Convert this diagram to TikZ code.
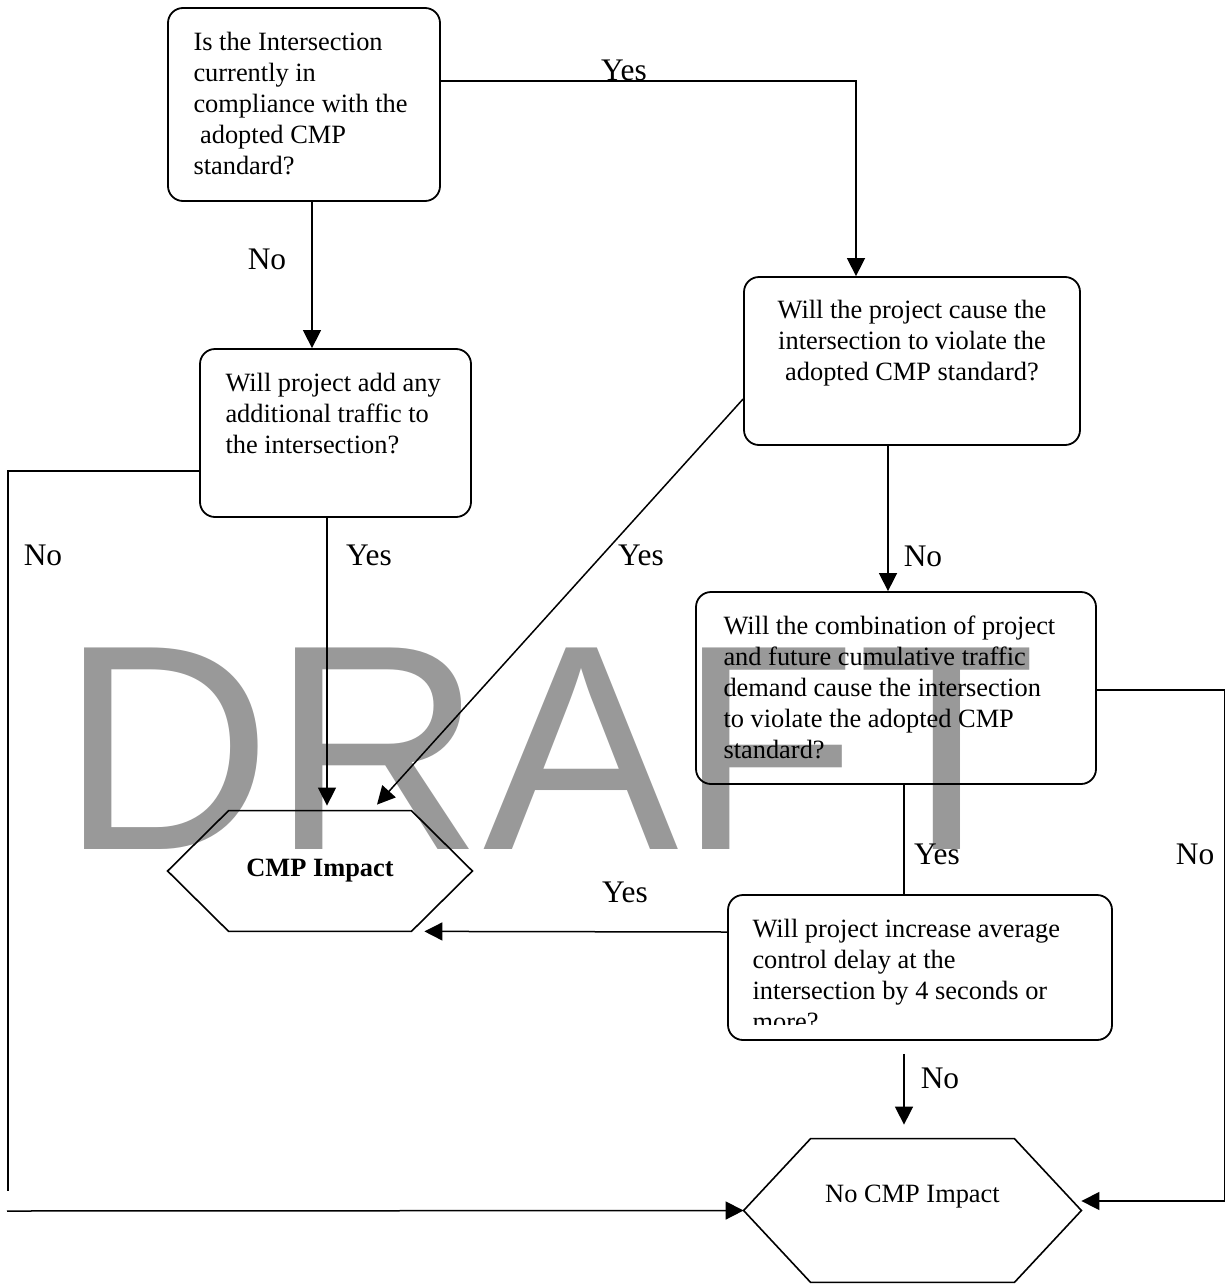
\documentclass[tikz,border=0pt]{standalone}
\usepackage{fontspec}
\setmainfont{Liberation Serif}
\newfontfamily\wmfont{Liberation Sans}
\usetikzlibrary{arrows.meta}
\definecolor{wmgray}{RGB}{153,153,153}
\tikzstyle{qbox}=[draw,line width=0.9pt,rounded corners=7.5pt,inner sep=0pt]
\tikzstyle{qtxt}=[inner sep=0pt,align=left,font=\fontsize{13.2pt}{15.5pt}\selectfont]
\tikzstyle{hexa}=[inner sep=0pt,font=\fontsize{13.2pt}{15.5pt}\selectfont]
\tikzstyle{lbl}=[inner sep=0pt,anchor=base,font=\fontsize{15.7pt}{18pt}\selectfont]
\tikzstyle{con}=[line width=0.75pt]
\tikzstyle{arr}=[line width=0.75pt,-{Triangle[length=9pt,width=9pt]}]

\begin{document}
\begin{tikzpicture}[x=0.5pt,y=-0.5pt]
                    \useasboundingbox (0,0) rectangle (1229,1284);
                    \node[anchor=base west,inner sep=0pt,text=wmgray,font=\wmfont\fontsize{146.5pt}{150pt}\selectfont] (wm) at (60,849) {DRAFT};
                    \node[qbox,minimum width=136pt,minimum height=96.5pt] (q1) at (304,104.5) {};
                    \node[qbox,minimum width=135.5pt,minimum height=84pt] (q2) at (335.5,433) {};
                    \node[qbox,minimum width=168pt,minimum height=84pt] (q3) at (912,361) {};
                    \node[qbox,minimum width=200pt,minimum height=96pt] (q4) at (896,688) {};
                    \node[qbox,minimum width=192pt,minimum height=72.5pt] (q5) at (920,967.5) {};
                    \node[qtxt,anchor=north west] (q1t) at ([xshift=13pt,yshift=-10.5pt]q1.north west)
                        {\strut Is the Intersection\\currently in\\compliance with the\\\hspace*{3.3pt}adopted CMP\\standard?};
                    \node[qtxt,anchor=north west] (q2t) at ([xshift=13pt,yshift=-10.5pt]q2.north west)
                        {\strut Will project add any\\additional traffic to\\the intersection?};
                    \node[qtxt,align=center,anchor=north] (q3t) at ([yshift=-10pt]q3.north)
                        {\strut Will the project cause the\\intersection to violate the\\adopted CMP standard?};
                    \node[qtxt,anchor=north west] (q4t) at ([xshift=14pt,yshift=-10.5pt]q4.north west)
                        {\strut Will the combination of project\\and future cumulative traffic\\demand cause the intersection\\to violate the adopted CMP\\standard?};
                    \begin{scope}
                        \clip ([yshift=8pt]q5.south west) rectangle (q5.north east);
                        \node[qtxt,anchor=north west] (q5t) at ([xshift=12.5pt,yshift=-10.5pt]q5.north west)
                            {\strut Will project increase average\\control delay at the\\intersection by 4 seconds or\\more?};
                    \end{scope}
                    \node[hexa,minimum width=152pt,minimum height=60pt,font=\fontsize{13.2pt}{15.5pt}\selectfont\bfseries] (imp) at (320,871) {CMP Impact};
                    \node[hexa,minimum width=168.5pt,minimum height=71.5pt] (noimp) at (912.5,1210.5) {};
                    \node[hexa] (noimpt) at ([yshift=6.75pt]noimp.center) {No CMP Impact};
                    \foreach \h/\c in {imp/30.5pt, noimp/33.5pt}
                        \draw[line width=0.8pt] (\h.west) -- ([xshift=\c]\h.north west) -- ([xshift=-\c]\h.north east)
                            -- (\h.east) -- ([xshift=-\c]\h.south east) -- ([xshift=\c]\h.south west) -- cycle;
                    \coordinate (lfoot) at (8,1191);
                    \coordinate (lstart) at (7,1211);
                    \draw[arr] ([xshift=4pt]q1.south) -- ([xshift=4pt]q1.south |- q2.north);
                    \draw[arr] ([yshift=11.75pt]q1.east) -| ([xshift=-28pt]q3.north);
                    \draw[arr] ([xshift=-4.25pt]q2.south) -- ([xshift=-4.25pt,yshift=2.5pt]q2.south |- imp.north);
                    \draw[con] ([yshift=-19pt]q2.west) -| (lfoot);
                    \draw[arr] (lstart) -- (noimp.west);
                    \draw[arr] ([yshift=-19pt]q3.west) -- ([xshift=28.5pt,yshift=3pt]imp.north);
                    \draw[arr] ([xshift=-12pt]q3.south) -- ([xshift=-12pt]q3.south |- q4.north);
                    \draw[con] ([xshift=4pt]q4.south) -- ([xshift=4pt]q4.south |- q5.north);
                    \draw[arr] ([yshift=-1pt]q4.east) -| ([xshift=71.5pt,yshift=4.75pt]noimp.east) -- ([yshift=4.75pt]noimp.east);
                    \draw[arr] ([yshift=17.75pt]q5.west) -- ([xshift=-24pt]imp.south east);
                    \draw[arr,shorten <=6.5pt,shorten >=7pt] ([xshift=-8pt]q5.south) -- ([xshift=-8pt]q5.south |- noimp.north);
                    \node[lbl] (n1) at (267,269) {No};
                    \node[lbl] (y1) at (624,81) {Yes};
                    \node[lbl] (n2) at (43,565) {No};
                    \node[lbl] (y2) at (369,565) {Yes};
                    \node[lbl] (y3) at (641,565) {Yes};
                    \node[lbl] (n3) at (923,566) {No};
                    \node[lbl] (y4) at (937,864) {Yes};
                    \node[lbl] (n4) at (1195,864) {No};
                    \node[lbl] (y5) at (625,902) {Yes};
                    \node[lbl] (n5) at (940,1088) {No};
                \end{tikzpicture}
\end{document}
